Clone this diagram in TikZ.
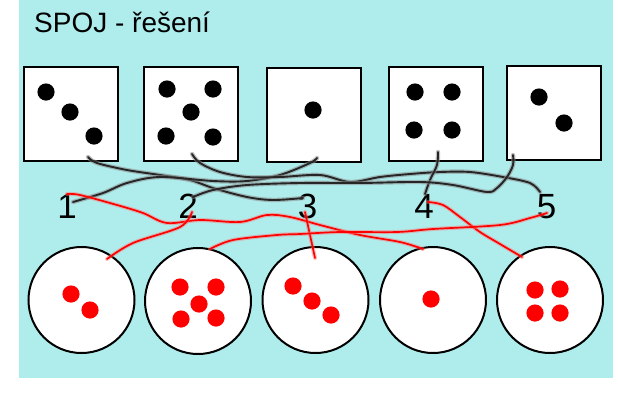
\documentclass[tikz,border=0pt]{standalone}
\usepackage{fontspec}
\setmainfont{Liberation Sans}
\begin{document}
\begin{tikzpicture}[x=1pt,y=-1pt,
  sq/.style={draw=black,line width=2pt,fill=white,minimum size=94pt,inner sep=0pt},
  circ/.style={circle,draw=black,line width=2pt,fill=white,minimum size=106pt,inner sep=0pt},
  num/.style={anchor=base,inner sep=0pt,font=\fontsize{35}{40}\selectfont},
  gline/.style={draw=black!85,line width=1.9pt,line cap=round,line join=round,
     preaction={draw=black!45,opacity=0.55,line width=4.4pt,line cap=round,line join=round}},
  rline/.style={draw=red,line width=1.7pt,line cap=round,line join=round,
     preaction={draw=red!55,opacity=0.45,line width=4pt,line cap=round,line join=round}},
  bdot/.style={fill=black},
  rdot/.style={fill=red}]
\definecolor{bgc}{HTML}{AFEDED}
\useasboundingbox (0,0) rectangle (618,392);
\fill[bgc] (19,0) rectangle (613,378);
\node[anchor=base west,inner sep=0pt,font=\fontsize{28}{32}\selectfont] (title) at (34,32) {SPOJ - řešení};
% squares
\node[sq] (s1) at (71,113.5) {};
\node[sq] (s2) at (190.5,114) {};
\node[sq] (s3) at (314,114.5) {};
\node[sq] (s4) at (436,113.5) {};
\node[sq] (s5) at (553.5,112.5) {};
\foreach \p in {(46,92),(70,112),(94,136)} \fill[bdot] \p circle (8.6);
\foreach \p in {(167,89),(213,89),(191,112),(166,136),(213,137)} \fill[bdot] \p circle (8.6);
\fill[bdot] (313,110) circle (8.6);
\foreach \p in {(415,92),(452,92),(414,130),(452,130)} \fill[bdot] \p circle (8.6);
\foreach \p in {(539,97),(564,123)} \fill[bdot] \p circle (8.6);
% circles
\node[circ] (c1) at (81.5,300) {};
\node[circ] (c2) at (198,301) {};
\node[circ] (c3) at (315.5,300) {};
\node[circ] (c4) at (433,300) {};
\node[circ] (c5) at (550,300) {};
\foreach \p in {(71,294),(90,310)} \fill[rdot] \p circle (8.6);
\foreach \p in {(180,287),(216,287),(199,304),(181,319),(216,318)} \fill[rdot] \p circle (8.6);
\foreach \p in {(293,286),(312,301),(331,315)} \fill[rdot] \p circle (8.6);
\fill[rdot] (431,299) circle (8.6);
\foreach \p in {(535,290),(560,289),(535,313),(560,313)} \fill[rdot] \p circle (8.6);
% numbers
\node[num] (n1) at (67,218) {1};
\node[num] (n2) at (188,218) {2};
\node[num] (n3) at (307.5,218) {3};
\node[num] (n4) at (424,218) {4};
\node[num] (n5) at (546.5,218) {5};
% endpoints
\coordinate (g1a) at (88,157); \coordinate (g1b) at (303,198);
\coordinate (g2a) at (317,158); \coordinate (g2b) at (73,202);
\coordinate (g3a) at (192,154); \coordinate (g3b) at (540,192);
\coordinate (g4a) at (438,152); \coordinate (g4b) at (425,194);
\coordinate (g5a) at (513,155); \coordinate (g5b) at (193,197);
\coordinate (r1a) at (67,194); \coordinate (r1b) at (423,249);
\coordinate (r2a) at (192,212); \coordinate (r2b) at (107,259);
\coordinate (r3a) at (305,212); \coordinate (r3b) at (315,258);
\coordinate (r4a) at (428,202); \coordinate (r4b) at (522,257);
\coordinate (r5a) at (547,213); \coordinate (r5b) at (210,249);
% gray hand-drawn lines
\draw[gline] plot[smooth,tension=0.55] coordinates {(g1a) (97,163) (127,170) (160,175) (190,180) (213,188) (247,197) (273,200) (g1b)};
\draw[gline] plot[smooth,tension=0.55] coordinates {(g2a) (310,163) (280,175) (247,181) (213,181) (160,177) (127,183) (103,193) (g2b)};
\draw[gline] plot[smooth,tension=0.55] coordinates {(g3a) (200,163) (220,172) (247,177) (280,177) (320,175) (350,182) (380,177) (410,174) (440,172) (470,172) (503,177) (530,183) (g3b)};
\draw[gline] plot[smooth,tension=0.55] coordinates {(g4a) (437,165) (430,180) (g4b)};
\draw[gline] plot[smooth,tension=0.55] coordinates {(g5a) (513,165) (507,177) (497,188) (487,192) (453,185) (420,182) (360,183) (300,183) (247,185) (213,190) (g5b)};
% red hand-drawn lines
\draw[rline] plot[smooth,tension=0.55] coordinates {(r1a) (80,195) (117,205) (143,213) (167,223) (200,220) (240,222) (267,215) (290,217) (320,225) (360,235) (400,242) (r1b)};
\draw[rline] plot[smooth,tension=0.55] coordinates {(r2a) (180,227) (133,243) (r2b)};
\draw[rline] plot[smooth,tension=0.55] coordinates {(r3a) (r3b)};
\draw[rline] plot[smooth,tension=0.55] coordinates {(r4a) (443,205) (460,217) (480,232) (500,244) (r4b)};
\draw[rline] plot[smooth,tension=0.55] coordinates {(r5a) (530,218) (500,225) (433,229) (397,232) (340,232) (300,234) (277,235) (233,240) (r5b)};
\end{tikzpicture}
\end{document}
